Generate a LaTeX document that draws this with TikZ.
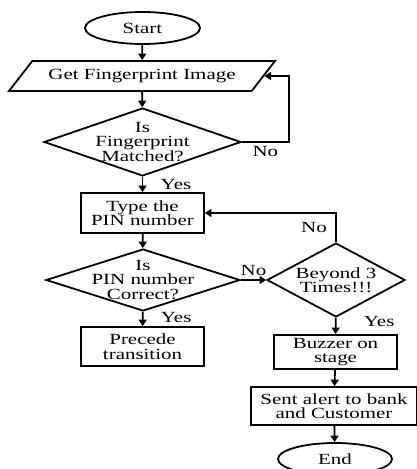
\documentclass[tikz,border=0pt]{standalone}
\usepackage{fontspec}
\setmainfont{Liberation Serif}[FakeStretch=1.35]
\usetikzlibrary{arrows.meta,shapes.geometric}
\tikzset{>={Triangle[length=6.5pt,width=8pt]},
  every node/.style={font=\fontsize{15.5}{14.5}\selectfont},
  term/.style={draw,ellipse,inner sep=0},
  io/.style={draw,trapezium,trapezium left angle=41,trapezium right angle=139,
    trapezium stretches body,minimum width=266,minimum height=30},
  proc/.style={draw,rectangle,align=center,inner sep=2pt},
  ques/.style={draw,diamond,inner sep=0}}

\begin{document}
\begin{tikzpicture}[x=1pt,y=-1pt,line width=1.8pt]
\useasboundingbox (0,0) rectangle (417,469);
\clip (0,0) rectangle (417,469);
\node (start) [term,minimum width=115,minimum height=32] at (142.5,28) {Start};
\node (img) [io] at (142,76) {Get Fingerprint Image};
\node (fp) [ques,minimum width=197,minimum height=68,
  label={[align=center]center:Is\\Fingerprint\\Matched?}] at (142.5,142) {};
\node (pin) [proc,minimum width=123,minimum height=40] at (142.5,213) {Type the\\PIN number};
\node (chk) [ques,minimum width=194,minimum height=62,
  label={[align=center]center:Is\\PIN number\\Correct?}] at (143,280) {};
\node (cnt) [ques,minimum width=138,minimum height=74,
  label={[align=center]center:Beyond 3\\Times!!!}] at (336,280) {};
\node (go) [proc,minimum width=123,minimum height=39] at (142.5,346.5) {Precede\\transition};
\node (buzz) [proc,minimum width=123,minimum height=34] at (335.5,352) {Buzzer on\\stage};
\node (alert) [proc,minimum width=166,minimum height=38] at (334,406) {Sent alert to bank\\and Customer};
\node (fin) [term,minimum width=114,minimum height=32] at (335,459) {End};

\path[->] (start) edge (img);
\path[->] (img) edge (fp);
\path[->] (fp) edge node[right=14pt] {Yes} (pin);
\path[->] (pin) edge (chk);
\path[->] (chk) edge node[above] {No} (cnt);
\path[->] (chk) edge node[pos=0.4,right=14pt] {Yes} (go);
\path[->] (cnt) edge node[near start,right=24pt] {Yes} (buzz);
\path[->] (buzz) edge (alert);
\path[->] (alert) edge (fin);
\draw[->] (fp.east) -- node[below] {No} ++(47,0) |- (img);
\draw[->] (cnt.north) |- node[pos=0.25,left,xshift=-5] {No} (pin);

\end{tikzpicture}
\end{document}
